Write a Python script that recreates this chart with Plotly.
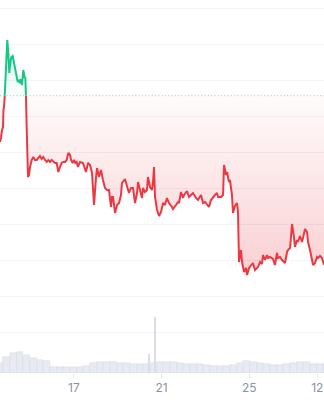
import plotly.graph_objects as go

# ---- data (hours since start, price) ----
hours = [0, 1.1, 2.2, 3.3, 3.8, 4.4, 5.1, 6.2, 7.3, 8.0, 9.1, 10.2, 11.0, 12.4, 13.9, 15.3, 16.8,
         18.3, 19.4, 20.5, 21.9, 22.7, 24.1, 25.5, 26.3, 27.1, 27.7, 28.5, 29.2, 30.7, 31.8, 32.9,
         34.7, 36.5, 38.3, 40.2, 42.0, 43.8, 45.7, 47.4, 49.3, 51.2, 52.9, 54.8, 56.6, 58.4, 60.2,
         62.1, 63.9, 65.7, 67.6, 69.3, 71.2, 73.1, 74.8, 76.7, 77.8, 79.6, 81.1, 82.5, 84.0, 85.4,
         86.9, 87.6, 90.9, 94.2, 96.4, 98.6, 100.8, 103.0, 105.2, 106.3, 108.4, 110.6, 112.8, 115.0,
         117.2, 119.4, 121.6, 122.7, 123.8, 126.0, 128.2, 130.4, 132.5, 133.6, 136.9, 139.1, 141.3,
         143.5, 145.7, 147.9, 150.1, 151.2, 153.4, 155.5, 156.6, 158.8, 161.0, 162.1, 164.3, 166.5,
         167.6, 168.7, 169.8, 172.0, 174.2, 176.4, 178.6, 180.7, 182.9, 185.1, 188.4, 189.5, 192.8,
         195.0, 196.1, 198.3, 200.5, 201.6, 204.8, 207.0, 209.2, 211.4, 214.7, 216.9, 220.2, 222.4,
         224.6, 226.7, 228.9, 231.1, 233.3, 235.5, 237.7, 238.8, 242.1, 244.3, 245.4, 247.6, 248.7,
         250.8, 251.9, 254.1, 255.2, 257.4, 259.6, 260.7, 261.8, 264.0, 265.1, 267.3, 269.5, 270.6,
         272.8, 274.9, 277.1, 279.3, 281.5, 282.6, 284.8, 287.0, 288.1, 290.3, 292.5, 293.6, 295.8,
         297.9, 299.0, 301.2, 303.4, 304.5, 306.7, 308.9, 310.0, 312.2, 314.4, 315.5, 317.7, 318.8,
         319.9, 322.0, 323.1, 325.3, 326.4, 328.6, 330.8, 331.9, 334.1, 336.3, 337.4, 339.6, 341.8,
         342.9, 345.1, 347.2, 348.3, 350.5, 352.7, 354.9]
price = [0.731, 0.735, 0.743, 0.746, 0.763, 0.766, 0.776, 0.800, 0.820, 0.833, 0.820, 0.800, 0.808,
         0.816, 0.817, 0.811, 0.803, 0.795, 0.791, 0.793, 0.790, 0.794, 0.788, 0.803, 0.800, 0.795,
         0.796, 0.776, 0.746, 0.696, 0.698, 0.706, 0.713, 0.716, 0.713, 0.713, 0.715, 0.717, 0.714,
         0.716, 0.713, 0.711, 0.713, 0.711, 0.713, 0.711, 0.710, 0.710, 0.701, 0.706, 0.710, 0.711,
         0.711, 0.713, 0.720, 0.718, 0.713, 0.710, 0.713, 0.710, 0.711, 0.706, 0.711, 0.711, 0.710,
         0.701, 0.710, 0.708, 0.700, 0.668, 0.696, 0.705, 0.696, 0.703, 0.693, 0.685, 0.683, 0.683,
         0.666, 0.676, 0.676, 0.660, 0.668, 0.670, 0.678, 0.690, 0.694, 0.686, 0.680, 0.685, 0.685,
         0.670, 0.680, 0.691, 0.681, 0.675, 0.685, 0.681, 0.683, 0.696, 0.686, 0.683, 0.691, 0.706,
         0.676, 0.663, 0.657, 0.661, 0.670, 0.668, 0.675, 0.670, 0.666, 0.664, 0.668, 0.671, 0.670,
         0.681, 0.675, 0.678, 0.682, 0.676, 0.678, 0.680, 0.675, 0.673, 0.678, 0.670, 0.671, 0.668,
         0.666, 0.673, 0.676, 0.678, 0.680, 0.676, 0.676, 0.678, 0.708, 0.698, 0.701, 0.691, 0.693,
         0.678, 0.660, 0.667, 0.670, 0.661, 0.611, 0.623, 0.611, 0.601, 0.605, 0.598, 0.605, 0.608,
         0.610, 0.603, 0.605, 0.606, 0.611, 0.609, 0.618, 0.613, 0.618, 0.615, 0.616, 0.615, 0.614,
         0.608, 0.620, 0.615, 0.616, 0.613, 0.612, 0.610, 0.621, 0.623, 0.625, 0.636, 0.649, 0.636,
         0.626, 0.633, 0.631, 0.637, 0.631, 0.635, 0.644, 0.641, 0.631, 0.623, 0.613, 0.608, 0.610,
         0.616, 0.615, 0.617, 0.615, 0.608]
baseline_price = 0.7773

# volume (millions), one bar per 7.3 h
vol_step = 7.3
vol_values = [10, 16, 20, 20.6, 18, 15.5, 13.5, 12, 6.5, 6, 6, 6, 6, 7.5, 10, 11, 11.5, 11.5,
              10.5, 10, 9.5, 9, 9, 10, 11.5, 11.5, 11.5, 10.5, 9.5, 9.3, 9, 7.6, 7, 6.8, 7.5,
              8.5, 10.5, 12, 11.5, 10, 9, 8.5, 8.5, 9, 10.5, 10.6, 10.6, 9.5, 9, 9]
spike_hours = [163.2, 170.1]
spike_values = [19, 55.6]

tick_hours = [81, 177, 273, 347.5]
tick_text = ["17", "21", "25", "12"]
grid_values = [0.541, 0.577, 0.613, 0.649, 0.685, 0.721, 0.757, 0.793, 0.829, 0.865]

RED = "#ea3943"
GREEN = "#16c784"

# ---- split the series at the baseline ----
B = baseline_price
xa, ya = [hours[0]], [price[0]]
for i in range(1, len(hours)):
    x0, y0, x1, y1 = hours[i - 1], price[i - 1], hours[i], price[i]
    if (y0 - B) * (y1 - B) < 0:
        t = (B - y0) / (y1 - y0)
        xa.append(x0 + t * (x1 - x0))
        ya.append(B)
    xa.append(x1)
    ya.append(y1)

red_line = [y if y <= B else None for y in ya]
green_line = [y if y >= B else None for y in ya]
red_fill = [min(y, B) for y in ya]
green_fill = [max(y, B) for y in ya]
base_line = [B] * len(ya)

vol_x = [i * vol_step for i in range(len(vol_values))]

fig = go.Figure()

fig.add_trace(go.Bar(x=vol_x, y=vol_values, yaxis="y2", width=vol_step,
                     marker=dict(color="#e7eaf1", line=dict(color="#d6dbe4", width=0.5)),
                     hoverinfo="skip"))
fig.add_trace(go.Bar(x=spike_hours, y=spike_values, yaxis="y2", width=1.0,
                     marker=dict(color="#d9dde5", line=dict(width=0)), hoverinfo="skip"))

# red fill
fig.add_trace(go.Scatter(x=xa, y=base_line, mode="lines", line=dict(width=0), hoverinfo="skip"))
fig.add_trace(go.Scatter(x=xa, y=red_fill, mode="lines", line=dict(width=0), fill="tonexty",
                         fillgradient=dict(type="vertical",
                                           colorscale=[[0, "rgba(234,57,67,0.24)"],
                                                       [1, "rgba(234,57,67,0.02)"]],
                                           start=min(price), stop=B),
                         hoverinfo="skip"))
# green fill
fig.add_trace(go.Scatter(x=xa, y=base_line, mode="lines", line=dict(width=0), hoverinfo="skip"))
fig.add_trace(go.Scatter(x=xa, y=green_fill, mode="lines", line=dict(width=0), fill="tonexty",
                         fillgradient=dict(type="vertical",
                                           colorscale=[[0, "rgba(22,199,132,0.02)"],
                                                       [1, "rgba(22,199,132,0.16)"]],
                                           start=B, stop=max(price)),
                         hoverinfo="skip"))

fig.add_trace(go.Scatter(x=xa, y=red_line, mode="lines", line=dict(color=RED, width=2),
                         connectgaps=False))
fig.add_trace(go.Scatter(x=xa, y=green_line, mode="lines", line=dict(color=GREEN, width=2),
                         connectgaps=False))

fig.add_shape(type="line", xref="paper", x0=0, x1=1, yref="y", y0=B, y1=B,
              line=dict(color="#b5b9c0", width=1, dash="1px,2.3px"))

fig.update_layout(
    width=324, height=400,
    margin=dict(l=0, r=0, t=0, b=27),
    paper_bgcolor="white", plot_bgcolor="white",
    showlegend=False, barmode="overlay", bargap=0,
    xaxis=dict(range=[0, 354.9], tickvals=tick_hours, ticktext=tick_text,
               showgrid=False, zeroline=False, showline=False,
               ticks="outside", ticklen=4, tickcolor="#dfe2e7",
               tickfont=dict(family="Inter, Roboto, sans-serif", size=12, color="#8a93a3")),
    yaxis=dict(range=[0.5, 0.873], tickvals=grid_values, showticklabels=False,
               gridcolor="#f2f3f5", gridwidth=1, zeroline=False, showline=False),
    yaxis2=dict(range=[0, 373], overlaying="y", visible=False),
)

fig.write_html("out.html")
